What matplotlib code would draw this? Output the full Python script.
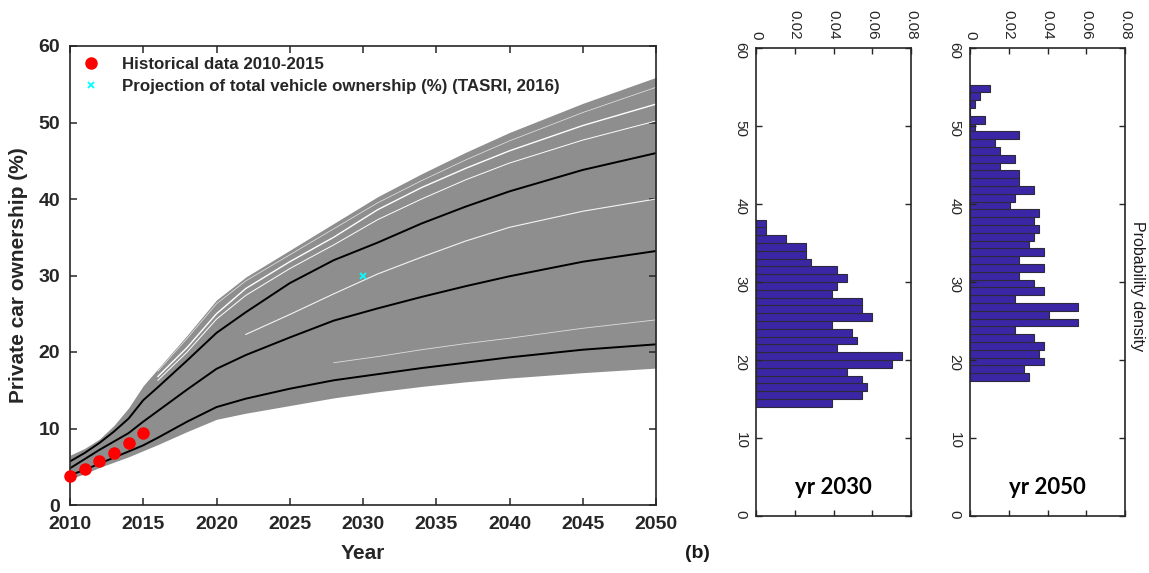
import matplotlib
matplotlib.use("Agg")
import matplotlib.pyplot as plt
import numpy as np

plt.rcParams['font.family'] = ['Liberation Sans', 'DejaVu Sans']

# 시나리오 앙상블 (민간 승용차 보유율, %)
years = [2010, 2011, 2012, 2013, 2014, 2015, 2016, 2018, 2020, 2022, 2025, 2028, 2031, 2034, 2037, 2040, 2045, 2050]
upper_env = [6.5, 7.4, 8.6, 10.4, 12.7, 15.6, 17.8, 22.2, 26.8, 29.8, 33.3, 36.8, 40.3, 43.3, 46.1, 48.7, 52.5, 55.9]
p95 = [5.7, 6.8, 8.1, 9.6, 11.3, 13.7, 15.4, 18.9, 22.5, 25.2, 29.0, 32.0, 34.3, 36.8, 39.0, 41.0, 43.8, 46.0]
p50 = [4.8, 6.0, 7.2, 8.3, 9.4, 10.9, 12.3, 15.1, 17.8, 19.6, 21.9, 24.1, 25.7, 27.2, 28.6, 29.9, 31.8, 33.2]
p05 = [3.9, 4.6, 5.4, 6.2, 7.0, 7.8, 8.8, 10.9, 12.8, 13.9, 15.2, 16.3, 17.1, 17.9, 18.6, 19.3, 20.3, 21.0]
lower_env = [3.4, 4.1, 4.9, 5.6, 6.3, 7.1, 7.9, 9.6, 11.2, 12.0, 13.0, 14.0, 14.8, 15.5, 16.1, 16.6, 17.3, 17.9]

# 앙상블 안에서 선들이 비어 보이는 틈
gap_years_a = [2016, 2018, 2020, 2022, 2025, 2028, 2031, 2034, 2037, 2040, 2045, 2050]
gap0 = [17.5, 21.8, 26.3, 29.3, 32.7, 36.1, 39.5, 42.4, 45.1, 47.6, 51.3, 54.6]
gap1 = [16.8, 20.6, 25.0, 28.3, 31.8, 35.0, 38.6, 41.5, 44.0, 46.3, 49.6, 52.4]
gap2 = [16.3, 20.0, 24.3, 27.4, 30.9, 34.0, 37.3, 40.0, 42.5, 44.7, 47.7, 50.2]
gap_years_b = [2022, 2025, 2028, 2031, 2034, 2037, 2040, 2045, 2050]
gap3 = [22.3, 24.9, 27.6, 30.2, 32.4, 34.5, 36.3, 38.4, 40.0]
gap_years_c = [2028, 2031, 2034, 2037, 2040, 2045, 2050]
gap4 = [18.6, 19.4, 20.3, 21.1, 21.8, 23.1, 24.2]

# 과거 자료
hist_years = [2010, 2011, 2012, 2013, 2014, 2015]
hist_vals = [3.8, 4.7, 5.8, 6.8, 8.1, 9.4]
tasri_year = [2030]
tasri_val = [30]

# 2030 / 2050 분포 (확률밀도, 아래 구간부터)
bins_2030 = list(range(14, 38))
dens_2030 = [0.039, 0.0545, 0.0571, 0.0545, 0.0468, 0.0701, 0.0753, 0.0416, 0.052, 0.0494,
             0.039, 0.0597, 0.0545, 0.0545, 0.039, 0.0416, 0.0468, 0.0416, 0.0286, 0.026,
             0.026, 0.0156, 0.0052, 0.0052]
bins_2050 = [17.3 + i for i in range(38)]
dens_2050 = [0.0304, 0.0279, 0.0382, 0.0356, 0.0382, 0.0330, 0.0230, 0.0559, 0.0408, 0.0559,
             0.0230, 0.0382, 0.0330, 0.0253, 0.0382, 0.0253, 0.0382, 0.0304, 0.0330, 0.0356,
             0.0330, 0.0356, 0.0205, 0.0230, 0.0330, 0.0253, 0.0253, 0.0154, 0.0230, 0.0154,
             0.0127, 0.0253, 0.0024, 0.0078, 0, 0.0024, 0.0050, 0.0101]

W, H = 1149, 573
fig = plt.figure(figsize=(W / 100, H / 100), dpi=100)
spine_c = '#262626'

ax = fig.add_axes([70 / W, 68 / H, 586 / W, 459 / H])
ax.fill_between(years, lower_env, upper_env, color='#8e8e8e', lw=0)
ax.plot(gap_years_a, gap0, color='white', lw=0.5, alpha=0.8)
ax.plot(gap_years_a, gap1, color='white', lw=1.0)
ax.plot(gap_years_a, gap2, color='white', lw=0.7)
ax.plot(gap_years_b, gap3, color='white', lw=0.8, alpha=0.9)
ax.plot(gap_years_c, gap4, color='white', lw=0.6, alpha=0.7)
for p in (p95, p50, p05):
    ax.plot(years, p, color='black', lw=1.4)
ax.plot(hist_years, hist_vals, 'o', color='red', ms=8, clip_on=False, zorder=5,
        label='Historical data 2010-2015')
ax.plot(tasri_year, tasri_val, 'x', color='cyan', ms=5, mew=1.3, zorder=5,
        label='Projection of total vehicle ownership (%) (TASRI, 2016)')
ax.set_xlim(2010, 2050)
ax.set_ylim(0, 60)
ax.set_xticks(range(2010, 2051, 5))
ax.set_yticks(range(0, 61, 10))
ax.tick_params(direction='in', top=True, right=True, length=5, width=1.1,
               labelsize=14, colors=spine_c)
ax.tick_params(axis='x', pad=8)
ax.tick_params(axis='y', pad=7)
for t in ax.get_xticklabels() + ax.get_yticklabels():
    t.set_fontweight('bold')
for s in ax.spines.values():
    s.set_color(spine_c)
    s.set_linewidth(1.2)
ax.set_xlabel('Year', fontsize=15, fontweight='bold', color=spine_c, labelpad=8)
ax.set_ylabel('Private car ownership (%)', fontsize=15, fontweight='bold', color=spine_c, labelpad=8)
ax.legend(loc='upper left', frameon=False, prop={'size': 12.2, 'weight': 'bold'},
          handlelength=1.2, handletextpad=1.2, borderaxespad=0.2, labelspacing=0.42,
          borderpad=0.45, labelcolor=spine_c)


def hist_panel(left, bins, dens, label):
    h = fig.add_axes([left / W, 57 / H, 155 / W, 468 / H])
    h.barh(bins, dens, height=1, align='edge', color='#3b27a6', edgecolor='#2b2b3c', lw=0.8)
    h.set_xlim(0, 0.08)
    h.set_ylim(0, 60)
    h.set_xticks([0, 0.02, 0.04, 0.06, 0.08])
    h.set_xticklabels(['0', '0.02', '0.04', '0.06', '0.08'])
    h.set_yticks(range(0, 61, 10))
    h.tick_params(direction='in', top=True, bottom=True, left=True, right=True,
                  labeltop=True, labelbottom=False, length=4, width=1.0,
                  labelsize=11, colors=spine_c, pad=6)
    h.tick_params(axis='x', labelrotation=-90)
    h.tick_params(axis='y', labelrotation=-90)
    for s in h.spines.values():
        s.set_color(spine_c)
        s.set_linewidth(1.2)
    h.text(0.5, 0.06, label, transform=h.transAxes, ha='center', va='center',
           family=['Lato', 'DejaVu Sans'], fontweight='bold', fontsize=16, color='black')
    return h


hist_panel(756, bins_2030, dens_2030, 'yr 2030')
hist_panel(970, bins_2050, dens_2050, 'yr 2050')

fig.text(1138 / W, 1 - 286 / H, 'Probability density', rotation=-90, ha='center', va='center',
         fontsize=11.5, color='#1a1a1a')
fig.text(697 / W, 1 - 553 / H, '(b)', ha='center', va='center', fontsize=14,
         fontweight='bold', color='#1a1a1a')

plt.savefig('out.png', dpi=100)
